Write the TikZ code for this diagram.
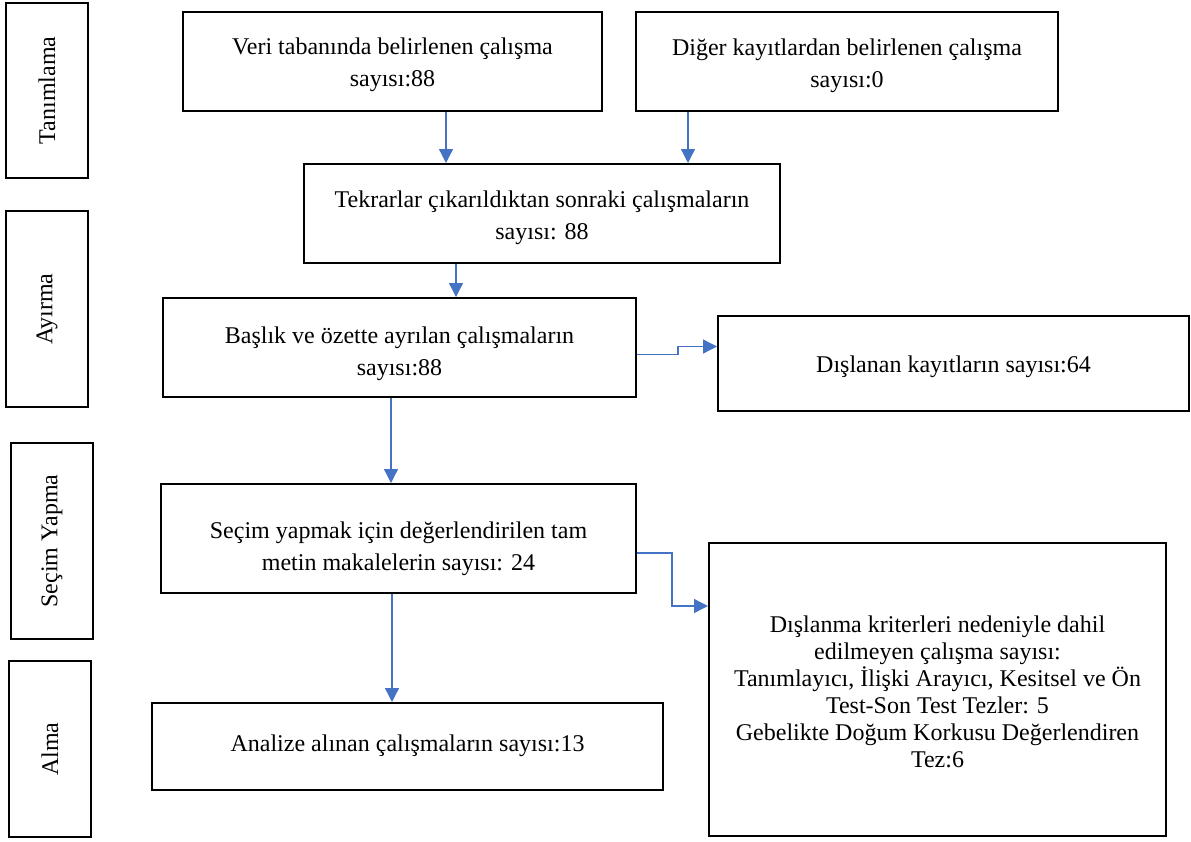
\documentclass[tikz,border=0pt]{standalone}
\usepackage{fontspec}
\setmainfont{Liberation Serif}
\usetikzlibrary{arrows.meta,calc}
\definecolor{arrowblue}{RGB}{68,114,196}
\begin{document}
\begin{tikzpicture}[x=1pt,y=-1pt,
  box/.style={draw=black,line width=2pt,inner sep=0pt},
  txt/.style={align=center,inner sep=0pt,font=\fontsize{24}{32}\selectfont},
  side/.style={box,rotate=90,font=\fontsize{24}{32}\selectfont},
  conn/.style={draw=arrowblue,line width=1.3pt,-{Triangle[width=14pt,length=14pt]}}]
\useasboundingbox (0,0) rectangle (1191,841);
% phase boxes
\node[side,minimum width=175,minimum height=82] (tan) at (47,90.5) {Tanımlama};
\node[side,minimum width=196,minimum height=82] (ayr) at (47,309) {Ayırma};
\node[side,minimum width=196,minimum height=82] (sec) at (52,541) {Seçim Yapma};
\node[side,minimum width=176,minimum height=82] (alm) at (50,749) {Alma};
% flow boxes
\node[box,minimum width=419,minimum height=99] (b1) at (392.5,61.5) {};
\node[txt] (b1t) at ($(b1)+(0,3)$) {Veri tabanında belirlenen çalışma\\sayısı:88};
\node[box,minimum width=422,minimum height=99] (b2) at (847,61.5) {};
\node[txt] (b2t) at ($(b2)+(0,4)$) {Diğer kayıtlardan belirlenen çalışma\\sayısı:0};
\node[box,minimum width=476,minimum height=99] (b3) at (542,213.5) {};
\node[txt] (b3t) at ($(b3)+(0,4)$) {Tekrarlar çıkarıldıktan sonraki çalışmaların\\sayısı: 88};
\node[box,minimum width=473,minimum height=99] (b4) at (399.5,347.5) {};
\node[txt] (b4t) at ($(b4)+(0,6)$) {Başlık ve özette ayrılan çalışmaların\\sayısı:88};
\node[box,minimum width=471,minimum height=95] (b5) at (953.5,363.5) {};
\node[txt] (b5t) at ($(b5)+(0,3)$) {Dışlanan kayıtların sayısı:64};
\node[box,minimum width=475,minimum height=109] (b6) at (398.5,538.5) {};
\node[txt] (b6t) at ($(b6)+(0,10)$) {Seçim yapmak için değerlendirilen tam\\metin makalelerin sayısı: 24};
\node[box,minimum width=457,minimum height=293] (b7) at (937.5,689.5) {};
\node[txt,font=\fontsize{24}{27}\selectfont] (b7t) at ($(b7)+(0,2)$) {Dışlanma kriterleri nedeniyle dahil\\edilmeyen çalışma sayısı:\\Tanımlayıcı, İlişki Arayıcı, Kesitsel ve Ön\\Test-Son Test Tezler: 5\\Gebelikte Doğum Korkusu Değerlendiren\\Tez:6};
\node[box,minimum width=511,minimum height=87] (b8) at (407.5,746.5) {};
\node[txt] (b8t) at ($(b8)+(0,-1)$) {Analize alınan çalışmaların sayısı:13};
% connectors
\draw[conn] (446,0 |- b1.south) -- (446,0 |- b3.north);
\draw[conn] (688,0 |- b2.south) -- (688,0 |- b3.north);
\draw[conn] (456,0 |- b3.south) -- (456,0 |- b4.north);
\draw[conn] (391,0 |- b4.south) -- (391,0 |- b6.north);
\draw[conn] (392,0 |- b6.south) -- (392,0 |- b8.north);
\coordinate (p1) at ($(b4.east)+(0,7)$);
\coordinate (p2) at ($(b5.west)+(0,-17)$);
\draw[conn] (p1) -- (678,0 |- p1) -- (678,0 |- p2) -- (p2);
\coordinate (p3) at ($(b6.east)+(0,14.5)$);
\coordinate (p4) at ($(b7.west)+(0,-83.5)$);
\draw[conn] (p3) -- (672,0 |- p3) -- (672,0 |- p4) -- (p4);
\end{tikzpicture}
\end{document}
